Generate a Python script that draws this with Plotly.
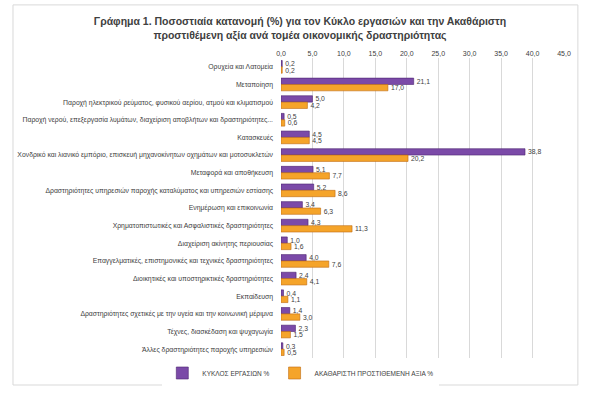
import plotly.graph_objects as go

categories = [
    "Ορυχεία και Λατομεία",
    "Μεταποίηση",
    "Παροχή ηλεκτρικού ρεύματος, φυσικού αερίου, ατμού και κλιματισμού",
    "Παροχή νερού, επεξεργασία λυμάτων, διαχείριση αποβλήτων και δραστηριότητες...",
    "Κατασκευές",
    "Χονδρικό και λιανικό εμπόριο, επισκευή μηχανοκίνητων οχημάτων και μοτοσυκλετών",
    "Μεταφορά και αποθήκευση",
    "Δραστηριότητες υπηρεσιών παροχής καταλύματος και υπηρεσιών εστίασης",
    "Ενημέρωση και επικοινωνία",
    "Χρηματοπιστωτικές και Ασφαλιστικές δραστηριότητες",
    "Διαχείριση ακίνητης περιουσίας",
    "Επαγγελματικές, επιστημονικές και τεχνικές δραστηριότητες",
    "Διοικητικές και υποστηρικτικές δραστηριότητες",
    "Εκπαίδευση",
    "Δραστηριότητες σχετικές με την υγεία και την κοινωνική μέριμνα",
    "Τέχνες, διασκέδαση και ψυχαγωγία",
    "Άλλες δραστηριότητες παροχής υπηρεσιών",
]
turnover = [0.2, 21.1, 5.0, 0.5, 4.5, 38.8, 5.1, 5.2, 3.4, 4.3, 1.0, 4.0, 2.4, 0.4, 1.4, 2.3, 0.3]
gva = [0.2, 17.0, 4.2, 0.6, 4.5, 20.2, 7.7, 8.6, 6.3, 11.3, 1.6, 7.6, 4.1, 1.1, 3.0, 1.5, 0.5]
tick_vals = [0, 5, 10, 15, 20, 25, 30, 35, 40, 45]

FONT = "Liberation Sans"
TXT = "#404040"

fig = go.Figure()
fig.add_trace(go.Bar(
    y=categories, x=turnover, orientation="h", name="ΚΥΚΛΟΣ ΕΡΓΑΣΙΩΝ %",
    marker=dict(color="#7B4AA8", line=dict(color="#4B2470", width=0.6)),
    texttemplate="%{x:.1f}", textposition="outside", constraintext="none",
    textfont=dict(size=6.8, color=TXT, family=FONT), cliponaxis=False,
))
fig.add_trace(go.Bar(
    y=categories, x=gva, orientation="h", name="ΑΚΑΘΑΡΙΣΤΗ ΠΡΟΣΤΙΘΕΜΕΝΗ ΑΞΙΑ %",
    marker=dict(color="#F5A42A", line=dict(color="#C06A10", width=0.6)),
    texttemplate="%{x:.1f}", textposition="outside", constraintext="none",
    textfont=dict(size=6.8, color=TXT, family=FONT), cliponaxis=False,
))

fig.update_layout(
    width=600, height=396,
    margin=dict(l=281, r=36, t=58, b=38, autoexpand=False),
    paper_bgcolor="white", plot_bgcolor="white",
    separators=",.",
    barmode="group", bargap=0.28, bargroupgap=0.0,
    font=dict(family=FONT, color=TXT, size=7),
    title=dict(
        text="<b>Γράφημα 1. Ποσοστιαία κατανομή (%) για τον Κύκλο εργασιών και την Ακαθάριστη<br>προστιθέμενη αξία ανά τομέα οικονομικής δραστηριότητας</b>",
        x=0.5, xref="container", xanchor="center", y=0.937, yanchor="middle",
        font=dict(size=10.5, color="#404040", family=FONT),
    ),
    xaxis=dict(
        side="top", range=[0, 45], tickvals=tick_vals, tickformat=".1f",
        showgrid=True, gridcolor="#D9D9D9", gridwidth=1, zeroline=False,
        showline=False, ticks="", tickfont=dict(size=7, color=TXT),
        automargin=False,
    ),
    yaxis=dict(
        autorange="reversed", showgrid=False, showline=False, ticks="",
        tickfont=dict(size=6.85, color=TXT), ticklabelstandoff=7,
        automargin=False,
    ),
    legend=dict(
        orientation="h", x=0.07, xanchor="center", y=-0.05, yanchor="middle",
        font=dict(size=6.5, color=TXT), itemwidth=30, traceorder="normal",
    ),
    shapes=[dict(
        type="rect", xref="paper", yref="paper",
        x0=-0.947, x1=1.049, y0=-0.09, y1=1.177,
        line=dict(color="#D9D9D9", width=1), layer="below",
    )],
)

fig.write_html("out.html", config={"displayModeBar": False},
               post_script="document.body.style.margin='0';")
